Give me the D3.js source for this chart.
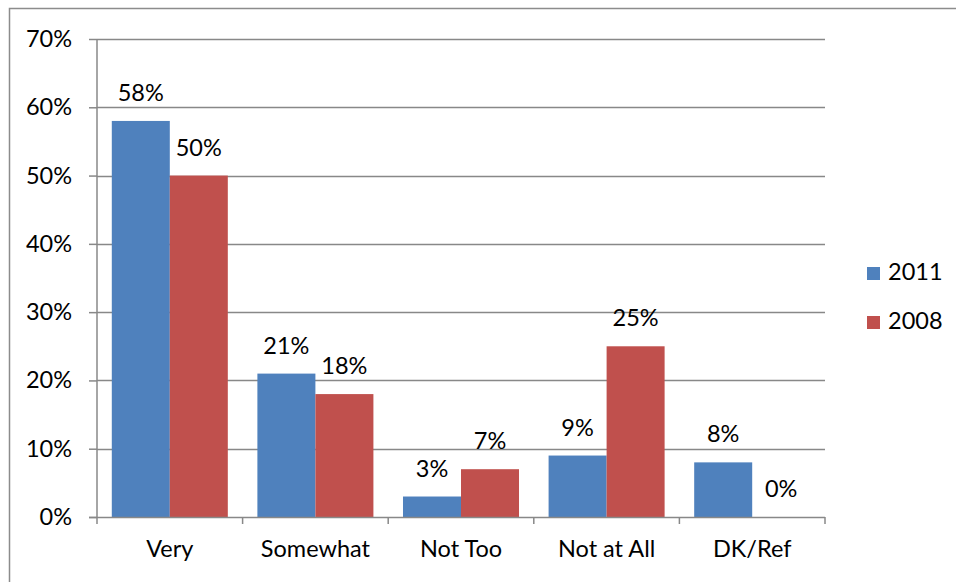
<!DOCTYPE html>
<html><head><meta charset="utf-8">
<script src="https://cdn.jsdelivr.net/npm/d3@7"></script>
<style>body{margin:0;background:#fff}svg{display:block}text{font-family:Lato,"Open Sans",sans-serif;fill:#000}</style>
</head><body>
<script>
const categories = ["Very","Somewhat","Not Too","Not at All","DK/Ref"];
const seriesNames = ["2011","2008"];
const values2011 = [58,21,3,9,8];
const values2008 = [50,18,7,25,0];
const yTicks = [0,10,20,30,40,50,60,70];
const colors = ["#4F81BD","#C0504D"];

(function(){
const W=956,H=582;
const svg=d3.select("body").append("svg").attr("width",W).attr("height",H);
svg.append("rect").attr("x",9.5).attr("y",8.5).attr("width",W).attr("height",H).attr("fill","none").attr("stroke","#8c8c8c").attr("stroke-width",1.5);

const pl=97,pr=825,pt=39,pb=517;
const x=d3.scaleBand().domain(categories).range([pl,pr]).padding(0);
const xs=d3.scaleBand().domain(seriesNames).range([0,x.bandwidth()]).paddingInner(0).paddingOuter(0.255);
const y=d3.scaleLinear().domain([0,70]).range([pb,pt]);

const fs="23.5px";
svg.append("g").selectAll("line").data(yTicks.filter(d=>d>0)).join("line")
  .attr("x1",pl).attr("x2",pr).attr("y1",d=>Math.round(y(d))+0.5).attr("y2",d=>Math.round(y(d))+0.5)
  .attr("stroke","#888").attr("stroke-width",1.5);

const series=[values2011,values2008];
const data=[];
categories.forEach((c,i)=>seriesNames.forEach((s,j)=>data.push({c,s,v:series[j][i],j})));

svg.append("g").selectAll("rect").data(data.filter(d=>d.v>0)).join("rect")
  .attr("x",d=>x(d.c)+xs(d.s)).attr("width",xs.bandwidth())
  .attr("y",d=>y(d.v)).attr("height",d=>pb-y(d.v)).attr("fill",d=>colors[d.j]);

svg.append("g").selectAll("text").data(data).join("text")
  .attr("x",d=>x(d.c)+xs(d.s)+xs.bandwidth()/2).attr("y",d=>y(d.v)-20)
  .attr("text-anchor","middle").style("font-size",fs).text(d=>d.v+"%");

const ya=svg.append("g").attr("transform",`translate(${pl},0)`)
  .call(d3.axisLeft(y).tickValues(yTicks).tickFormat(d=>d+"%").tickSize(8).tickPadding(17));
ya.select(".domain").attr("stroke","#888").attr("stroke-width",1.5).attr("d",`M0,${pt}V${pb}`);
ya.selectAll(".tick line").attr("stroke","#888").attr("stroke-width",1.5);
ya.selectAll(".tick text").style("font-size",fs).style("font-family","Lato,'Open Sans',sans-serif").attr("fill","#000");

const xa=svg.append("g").attr("transform",`translate(0,${pb})`);
xa.append("line").attr("x1",pl-8).attr("x2",pr).attr("y1",0.5).attr("y2",0.5).attr("stroke","#888").attr("stroke-width",1.5);
const bounds=categories.map(c=>x(c)).concat([x(categories[categories.length-1])+x.bandwidth()]);
xa.selectAll(".tk").data(bounds).join("line").attr("class","tk")
  .attr("x1",d=>d).attr("x2",d=>d).attr("y1",0).attr("y2",7).attr("stroke","#888").attr("stroke-width",1.5);
xa.selectAll(".lbl").data(categories).join("text").attr("class","lbl")
  .attr("x",d=>x(d)+x.bandwidth()/2).attr("y",40).attr("text-anchor","middle").style("font-size",fs).text(d=>d);

const lg=svg.append("g");
seriesNames.forEach((s,i)=>{
  const yy=267+i*49;
  lg.append("rect").attr("x",867).attr("y",yy).attr("width",13).attr("height",13).attr("fill",colors[i]);
  lg.append("text").attr("x",888).attr("y",yy+13).style("font-size",fs).text(s);
});
})();
</script>
</body></html>
